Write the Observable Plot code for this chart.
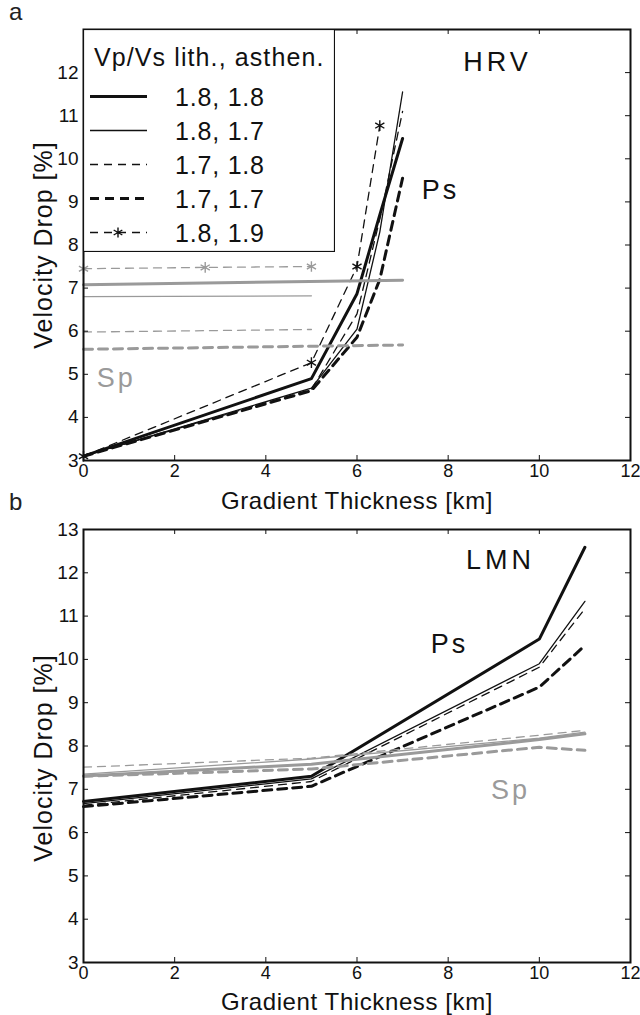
<!DOCTYPE html>
<html><head><meta charset="utf-8">
<script src="https://cdn.jsdelivr.net/npm/d3@7"></script>
<script src="https://cdn.jsdelivr.net/npm/@observablehq/plot@0.6"></script>
<style>
body{margin:0;background:#fff;}
#wrap{position:relative;width:640px;height:1015px;background:#fff;}
#wrap svg{display:block}
.plab{position:absolute;font-family:"Liberation Sans",Arial,sans-serif;font-size:24px;color:#222;}
#legend{position:absolute;left:83px;top:29px;}
</style></head><body><div id="wrap"></div>
<script>
// ---- data ----
const seriesNames = ["1.8, 1.8", "1.8, 1.7", "1.7, 1.8", "1.7, 1.7", "1.8, 1.9"];
const legendTitle = "Vp/Vs lith., asthen.";
const xTicks = [0, 2, 4, 6, 8, 10, 12];
const yTicks = [3, 4, 5, 6, 7, 8, 9, 10, 11, 12, 13];
const yLabelsA = [3, 4, 5, 6, 7, 8, 9, 10, 11, 12];
const yLabelsB = [3, 4, 5, 6, 7, 8, 9, 10, 11, 12, 13];

// HRV (panel a), Ps
const hrvPsX = [0, 5, 6, 6.5, 7];
const hrvPs_18_18 = [3.1, 4.9, 6.87, 8.7, 10.47];
const hrvPs_18_17 = [3.1, 4.68, 6.05, 8.3, 11.55];
const hrvPs_17_18 = [3.1, 4.65, 6.4, 8.6, 11.1];
const hrvPs_17_17 = [3.1, 4.62, 5.86, 7.2, 9.55];
const hrvPsStarX = [0, 5, 6, 6.5];
const hrvPs_18_19 = [3.1, 5.27, 7.5, 10.77];
// HRV (panel a), Sp
const hrvSpX_18_18 = [0, 7];
const hrvSp_18_18 = [7.08, 7.18];
const hrvSpX_18_17 = [0, 5];
const hrvSp_18_17 = [6.8, 6.82];
const hrvSpX_17_18 = [0, 5];
const hrvSp_17_18 = [5.98, 6.04];
const hrvSpX_17_17 = [0, 7];
const hrvSp_17_17 = [5.58, 5.68];
const hrvSpX_18_19 = [0, 2.67, 5];
const hrvSp_18_19 = [7.45, 7.48, 7.5];

// LMN (panel b)
const lmnX = [0, 5, 10, 11];
const lmnPs_18_18 = [6.72, 7.3, 10.47, 12.59];
const lmnPs_18_17 = [6.67, 7.24, 9.9, 11.34];
const lmnPs_17_18 = [6.63, 7.18, 9.82, 11.17];
const lmnPs_17_17 = [6.6, 7.07, 9.36, 10.32];
const lmnSp_18_18 = [7.31, 7.58, 8.15, 8.28];
const lmnSp_18_17 = [7.35, 7.7, 8.18, 8.32];
const lmnSp_17_18 = [7.51, 7.72, 8.25, 8.36];
const lmnSp_17_17 = [7.3, 7.47, 7.97, 7.9];

// annotations (data coordinates)
const annotA = [
  {text: "HRV", x: 9.08, y: 12.23, wave: "label"},
  {text: "Ps", x: 7.83, y: 9.26, wave: "Ps"},
  {text: "Sp", x: 0.72, y: 4.9, wave: "Sp"}
];
const annotB = [
  {text: "LMN", x: 9.15, y: 12.28, wave: "label"},
  {text: "Ps", x: 8.03, y: 10.34, wave: "Ps"},
  {text: "Sp", x: 9.37, y: 6.97, wave: "Sp"}
];

// ---- build tables ----
function rows(wave, series, xs, vs) {
  return xs.map((x, i) => ({wave, series, x, v: vs[i]}));
}
const dataA = [
  ...rows("Ps", "1.8, 1.8", hrvPsX, hrvPs_18_18),
  ...rows("Ps", "1.8, 1.7", hrvPsX, hrvPs_18_17),
  ...rows("Ps", "1.7, 1.8", hrvPsX, hrvPs_17_18),
  ...rows("Ps", "1.7, 1.7", hrvPsX, hrvPs_17_17),
  ...rows("Ps", "1.8, 1.9", hrvPsStarX, hrvPs_18_19),
  ...rows("Sp", "1.8, 1.8", hrvSpX_18_18, hrvSp_18_18),
  ...rows("Sp", "1.8, 1.7", hrvSpX_18_17, hrvSp_18_17),
  ...rows("Sp", "1.7, 1.8", hrvSpX_17_18, hrvSp_17_18),
  ...rows("Sp", "1.7, 1.7", hrvSpX_17_17, hrvSp_17_17),
  ...rows("Sp", "1.8, 1.9", hrvSpX_18_19, hrvSp_18_19)
];
const dataB = [
  ...rows("Ps", "1.8, 1.8", lmnX, lmnPs_18_18),
  ...rows("Ps", "1.8, 1.7", lmnX, lmnPs_18_17),
  ...rows("Ps", "1.7, 1.8", lmnX, lmnPs_17_18),
  ...rows("Ps", "1.7, 1.7", lmnX, lmnPs_17_17),
  ...rows("Sp", "1.8, 1.8", lmnX, lmnSp_18_18),
  ...rows("Sp", "1.8, 1.7", lmnX, lmnSp_18_17),
  ...rows("Sp", "1.7, 1.8", lmnX, lmnSp_17_18),
  ...rows("Sp", "1.7, 1.7", lmnX, lmnSp_17_17)
];

// ---- styles ----
const GRAY = "#9a9a9a";
const waveColor = {Ps: "#111", Sp: GRAY, label: "#111"};
const lineStyle = {
  "1.8, 1.8": {w: 3, dash: null},
  "1.8, 1.7": {w: 1.3, dash: null},
  "1.7, 1.8": {w: 1.3, dash: "8,6"},
  "1.7, 1.7": {w: 3, dash: "9,6"},
  "1.8, 1.9": {w: 1.3, dash: "8,6"}
};
const FONT = '"Liberation Sans", Arial, sans-serif';
const NARROW = '"Liberation Sans Narrow", "Liberation Sans", Arial, sans-serif';
const spacing = {"HRV": 4, "LMN": 4, "Ps": 3, "Sp": 3, "Gradient Thickness [km]": 0.6, "Velocity Drop [%]": 1};

function panel({data, annot, yLabels, height, marginTop, marginBottom, yTitleDy, xTitleDy}) {
  const W = 640, ML = 83, MR = 10;
  const plotW = W - ML - MR, plotH = height - marginTop - marginBottom;
  const marks = [];
  for (const wave of ["Ps", "Sp"]) {
    for (const s of seriesNames) {
      const d = data.filter(r => r.wave === wave && r.series === s);
      if (!d.length) continue;
      const st = lineStyle[s];
      marks.push(Plot.line(d, {x: "x", y: "v", stroke: waveColor[wave], strokeWidth: st.w,
        strokeDasharray: st.dash, strokeLinejoin: "round"}));
      if (s === "1.8, 1.9") {
        marks.push(Plot.dot(d, {x: "x", y: "v", symbol: "asterisk", r: 5, stroke: waveColor[wave], strokeWidth: 1.4}));
      }
    }
  }
  const svg = Plot.plot({
    width: W, height, marginLeft: ML, marginRight: MR, marginTop, marginBottom,
    x: {domain: [0, 12], label: null},
    y: {domain: [3, 13], label: null},
    style: {fontFamily: FONT, background: "white", color: "#111", overflow: "visible"},
    marks: [
      ...marks,
      Plot.text(annot, {x: "x", y: "y", text: "text", fill: d => waveColor[d.wave], fontSize: 27, fontFamily: FONT}),
      // inward ticks on all four sides
      Plot.tickX(xTicks, {x: d => d, insetTop: plotH - 5, stroke: "#111", strokeWidth: 1}),
      Plot.tickX(xTicks, {x: d => d, insetBottom: plotH - 5, stroke: "#111", strokeWidth: 1}),
      Plot.tickY(yTicks, {y: d => d, insetRight: plotW - 5, stroke: "#111", strokeWidth: 1}),
      Plot.tickY(yTicks, {y: d => d, insetLeft: plotW - 5, stroke: "#111", strokeWidth: 1}),
      Plot.axisX(xTicks, {anchor: "bottom", tickSize: 0, tickPadding: 4, fontSize: 18, fontFamily: NARROW, label: null}),
      Plot.axisY(yLabels, {anchor: "left", tickSize: 0, tickPadding: 5, fontSize: 19, fontFamily: NARROW, label: null}),
      Plot.text(["Gradient Thickness [km]"], {frameAnchor: "bottom", dy: xTitleDy, text: d => d, fontSize: 24, fontFamily: FONT, fill: "#111"}),
      Plot.text(["Velocity Drop [%]"], {frameAnchor: "left", textAnchor: "middle", dx: -40, dy: yTitleDy, rotate: -90, text: d => d, fontSize: 25, fontFamily: FONT, fill: "#111"}),
      Plot.frame({stroke: "#111", strokeWidth: 2})
    ]
  });
  d3.select(svg).selectAll("text").each(function() {
    const t = this.textContent;
    if (spacing[t] != null) this.setAttribute("letter-spacing", spacing[t]);
  });
  return svg;
}

const wrap = document.getElementById("wrap");
const svgA = panel({data: dataA, annot: annotA, yLabels: yLabelsA, height: 515, marginTop: 29, marginBottom: 55, yTitleDy: 0, xTitleDy: 48});
const svgB = panel({data: dataB, annot: annotB, yLabels: yLabelsB, height: 500, marginTop: 14, marginBottom: 53, yTitleDy: 12, xTitleDy: 47});
wrap.appendChild(svgA);
wrap.appendChild(svgB);

const la = document.createElement("div"); la.className = "plab"; la.textContent = "a";
la.style.left = "9px"; la.style.top = "-2px"; wrap.appendChild(la);
const lb = document.createElement("div"); lb.className = "plab"; lb.textContent = "b";
lb.style.left = "9px"; lb.style.top = "488px"; wrap.appendChild(lb);

// ---- legend ----
const lg = d3.select(wrap).append("svg").attr("id", "legend").attr("width", 252).attr("height", 223);
lg.append("rect").attr("x", 0.5).attr("y", 0.5).attr("width", 251).attr("height", 222)
  .attr("fill", "white").attr("stroke", "#111").attr("stroke-width", 1.2);
lg.append("text").attr("x", 11).attr("y", 37).text(legendTitle)
  .attr("font-family", FONT).attr("font-size", 25).attr("fill", "#111").attr("letter-spacing", 1.1);
seriesNames.forEach((s, i) => {
  const yy = 67.5 + i * 34;
  const st = lineStyle[s];
  lg.append("line").attr("x1", 7).attr("x2", 64).attr("y1", yy).attr("y2", yy)
    .attr("stroke", "#111").attr("stroke-width", st.w).attr("stroke-dasharray", st.dash);
  if (s === "1.8, 1.9") {
    lg.append("path").attr("d", d3.symbol(d3.symbolAsterisk, 70)()).attr("transform", `translate(35,${yy})`)
      .attr("stroke", "#111").attr("stroke-width", 1.4).attr("fill", "none");
  }
  lg.append("text").attr("x", 92).attr("y", yy + 9).text(s)
    .attr("font-family", FONT).attr("font-size", 25).attr("fill", "#111").attr("letter-spacing", 0.8);
});
</script></body></html>
